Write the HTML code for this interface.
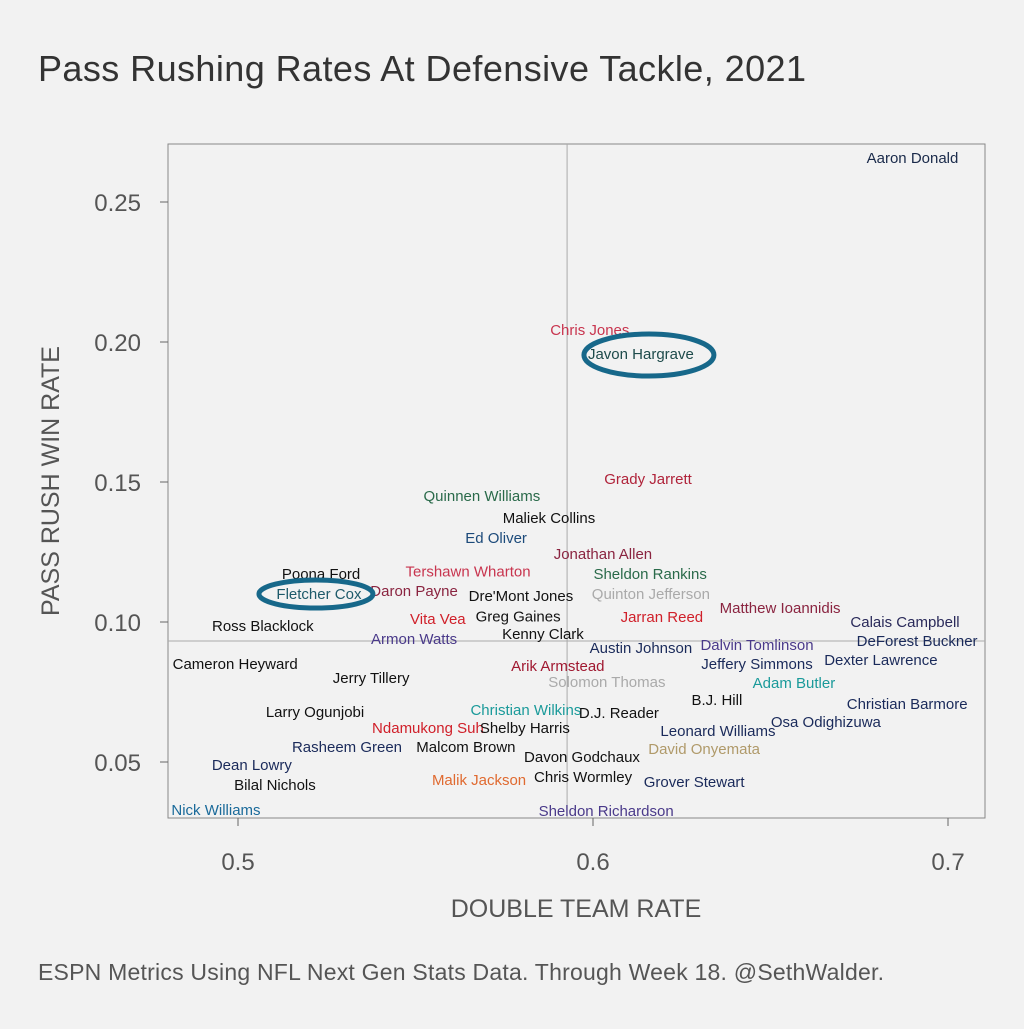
<!DOCTYPE html>
<html><head><meta charset="utf-8"><style>
body{margin:0;background:#f2f2f2;}
svg text{font-family:"Liberation Sans",Arial,sans-serif;}
</style></head><body>
<svg width="1024" height="1024" viewBox="0 0 1024 1024">
<rect width="1024" height="1024" fill="#f2f2f2"/>
<text x="38" y="81" font-size="36" fill="#333" textLength="768">Pass Rushing Rates At Defensive Tackle, 2021</text>
<rect x="168" y="144" width="817" height="674" fill="none" stroke="#888" stroke-width="1"/>
<g id="refs"></g>
<g id="ticks"></g>
<g id="pts"></g>
<g id="marks"></g>
<text x="576" y="917" font-size="25" fill="#555" text-anchor="middle">DOUBLE TEAM RATE</text>
<text transform="translate(59,481) rotate(-90)" font-size="25" fill="#555" text-anchor="middle">PASS RUSH WIN RATE</text>
<text x="38" y="980" font-size="23" fill="#555" textLength="846">ESPN Metrics Using NFL Next Gen Stats Data. Through Week 18. @SethWalder.</text>
</svg>
<script>
const xTicks=[0.5,0.6,0.7];
const yTicks=[0.05,0.10,0.15,0.20,0.25];
const refX=0.5927, refY=0.0932;
const names=["Aaron Donald","Chris Jones","Javon Hargrave","Grady Jarrett","Quinnen Williams","Maliek Collins","Ed Oliver","Jonathan Allen","Sheldon Rankins","Poona Ford","Tershawn Wharton","Daron Payne","Quinton Jefferson","Fletcher Cox","Dre'Mont Jones","Matthew Ioannidis","Calais Campbell","Vita Vea","Greg Gaines","Jarran Reed","Ross Blacklock","Armon Watts","Kenny Clark","DeForest Buckner","Dalvin Tomlinson","Austin Johnson","Cameron Heyward","Dexter Lawrence","Arik Armstead","Jeffery Simmons","Jerry Tillery","Solomon Thomas","Adam Butler","B.J. Hill","Christian Barmore","Larry Ogunjobi","Christian Wilkins","D.J. Reader","Ndamukong Suh","Shelby Harris","Osa Odighizuwa","Leonard Williams","Rasheem Green","Malcom Brown","Davon Godchaux","David Onyemata","Dean Lowry","Malik Jackson","Chris Wormley","Grover Stewart","Bilal Nichols","Nick Williams","Sheldon Richardson"];
const dtRate=[0.690,0.5991,0.6135,0.6155,0.5687,0.5876,0.5727,0.6028,0.6161,0.5234,0.5648,0.5496,0.6163,0.5228,0.5797,0.6527,0.6879,0.5563,0.5789,0.6194,0.507,0.5496,0.5859,0.6913,0.6462,0.6135,0.4992,0.6811,0.5901,0.6462,0.5375,0.6039,0.6566,0.6349,0.6885,0.5217,0.5811,0.6073,0.5535,0.5808,0.6656,0.6352,0.5307,0.5642,0.5969,0.6313,0.5039,0.5679,0.5972,0.6285,0.5104,0.4938,0.6037];
const prwRate=[0.2657,0.2043,0.1957,0.151,0.145,0.1371,0.130,0.1243,0.1171,0.1171,0.118,0.1111,0.110,0.110,0.1093,0.105,0.100,0.1011,0.102,0.1018,0.0986,0.0939,0.0957,0.0932,0.0918,0.0907,0.085,0.0864,0.0843,0.085,0.080,0.0786,0.0782,0.0721,0.0707,0.0679,0.0686,0.0675,0.0621,0.0621,0.0643,0.0611,0.0554,0.0554,0.0518,0.0546,0.049,0.0436,0.0446,0.0429,0.0418,0.0329,0.0325];
const colors=["#1a2a4a","#c8344e","#1d4a4a","#b0233a","#2a6a4a","#111","#1c4a7a","#8a2440","#2a6a4a","#111","#c8344e","#8a2440","#aaa","#1d5a6a","#111","#8a2440","#2a2a5a","#d0202a","#111","#d0202a","#111","#4a3a8a","#111","#1a2a5a","#4a3a8a","#1a2a5a","#111","#1a2a5a","#a01830","#1a2a5a","#111","#aaa","#1a9a9a","#111","#1a2a5a","#111","#1a9a9a","#111","#d0202a","#111","#1a2a5a","#1a2a5a","#1a2a5a","#111","#111","#b09a6a","#1a2a5a","#e06a30","#111","#1a2a5a","#111","#1a6a9a","#4a3a8a"];
const highlighted=["Javon Hargrave","Fletcher Cox"];
const NS="http://www.w3.org/2000/svg";
const X=v=>238+(v-0.5)*3550;
const Y=v=>202+(0.25-v)*2800;
function mk(tag,attrs,parent){const e=document.createElementNS(NS,tag);for(const k in attrs)e.setAttribute(k,attrs[k]);document.getElementById(parent).appendChild(e);return e;}
let l=mk('line',{x1:X(refX),x2:X(refX),y1:144,y2:818,stroke:'#aaa','stroke-width':1},'refs');


l=mk('line',{x1:168,x2:985,y1:Y(refY),y2:Y(refY),stroke:'#aaa','stroke-width':1},'refs');


xTicks.forEach(t=>{
 const tk=mk('line',{x1:X(t),x2:X(t),y1:818,y2:826,stroke:'#666'},'ticks');
 
 
 const tx=mk('text',{x:X(t),y:870,'font-size':24,fill:'#555','text-anchor':'middle'},'ticks');
 tx.textContent=String(t);
 
 
});
yTicks.forEach(t=>{
 const tk=mk('line',{x1:160,x2:168,y1:Y(t),y2:Y(t),stroke:'#666'},'ticks');
 
 
 const tx=mk('text',{x:141,y:Y(t)+9,'font-size':24,fill:'#555','text-anchor':'end'},'ticks');
 tx.textContent=t.toFixed(2);
 
 
});
names.forEach((n,i)=>{
 const t=mk('text',{x:X(dtRate[i]),y:Y(prwRate[i])+5,'font-size':15,fill:colors[i],'text-anchor':'middle'},'pts');
 t.textContent=n;
 
 
 if(highlighted.includes(n)){
  const big=n==="Javon Hargrave";
  const e=mk('ellipse',{cx:X(dtRate[i])+(big?8:-3),cy:Y(prwRate[i])+(big?1:0),rx:big?65:57,ry:big?21:14,fill:'none',stroke:'#17688a','stroke-width':5},'marks');
  
  
 }
});
</script>
</body></html>
